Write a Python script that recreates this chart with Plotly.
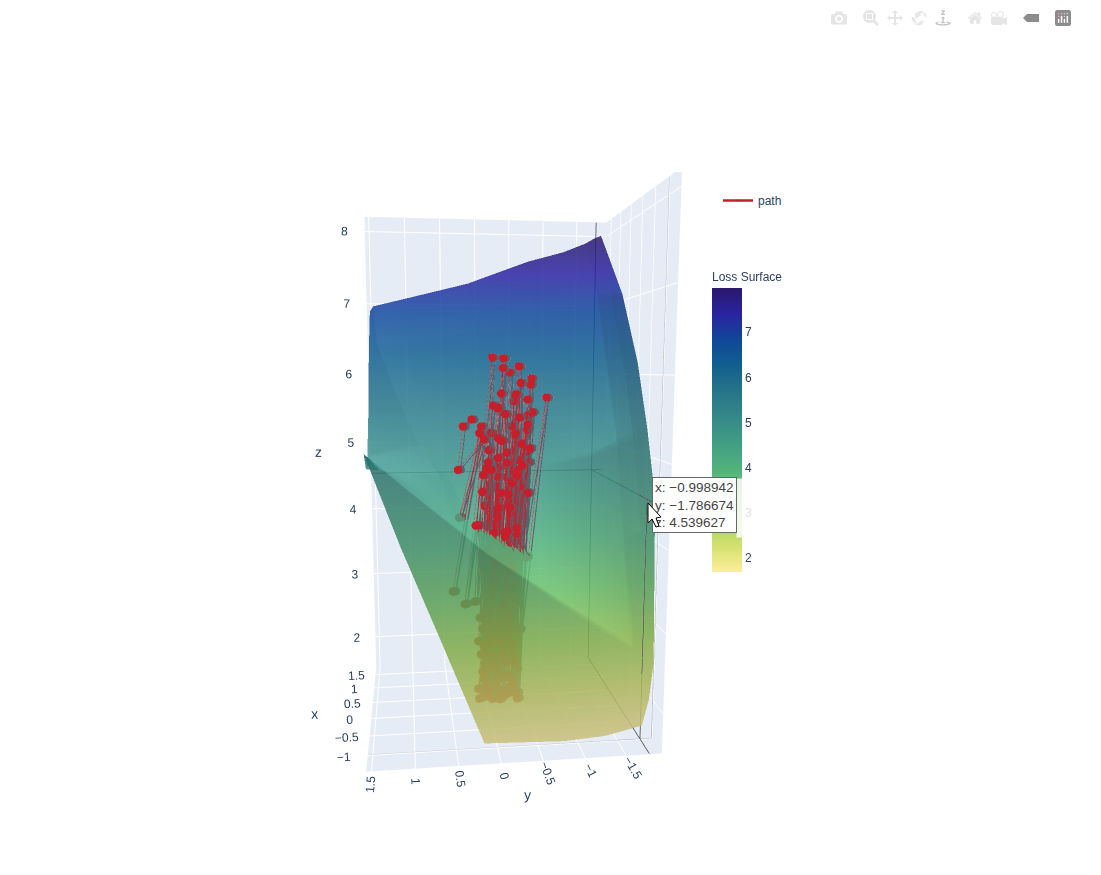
import plotly.graph_objects as go

W = 1069
H = 859

surf_x = [
    [-1.0, -1.06, -1.15, -1.3, -1.3, -1.25, -1.14, -1.05, -1.0],
    [-1.0, -1.0, -1.0, -1.0, -1.0, -1.0, -1.0, -1.0, -1.0],
    [-0.6, -0.6, -0.6, -0.6, -0.6, -0.6, -0.6, -0.8, -0.9989],
    [-0.2, -0.2, -0.2, -0.2, -0.2, -0.2, -0.2, -0.35, -0.62],
    [0.3, 0.3, 0.3, 0.3, 0.3, 0.3, 0.3, 0.1, -0.15],
    [0.95, 0.95, 0.95, 0.95, 0.95, 0.95, 0.95, 0.75, 0.5],
    [1.6, 1.6, 1.6, 1.6, 1.6, 1.6, 1.6, 1.6, 1.6],
]
surf_y = [
    [1.51, 1.12, 0.68, 0.19, -0.755, -1.27, -1.76, -1.87, -1.93],
    [1.51, 0.43, 0.27, 0.12, -0.755, -1.27, -1.63, -1.81, -1.93],
    [1.51, 0.64, 0.43, 0.12, -0.755, -1.27, -1.63, -1.79, -1.885],
    [1.51, 0.89, 0.63, 0.12, -0.755, -1.27, -1.63, -1.79, -1.885],
    [1.51, 1.15, 0.84, 0.12, -0.755, -1.27, -1.63, -1.79, -1.885],
    [1.51, 1.40, 1.00, 0.12, -0.755, -1.27, -1.63, -1.76, -1.85],
    [1.51, 1.46, 1.05, 0.12, -0.755, -1.27, -1.6, -1.72, -1.82],
]
surf_z = [
    [5.12, 4.05, 2.95, 1.72, 1.69, 1.70, 1.75, 2.05, 2.5],
    [5.12, 4.2, 4.05, 3.92, 3.3, 2.95, 2.7, 2.55, 2.5],
    [4.9, 4.8, 4.55, 4.44, 4.1, 3.97, 3.95, 4.05, 4.54],
    [5.0, 5.15, 5.05, 4.95, 4.9, 5.0, 5.15, 5.25, 5.35],
    [5.45, 5.75, 5.65, 5.6, 5.65, 5.75, 5.95, 6.05, 6.15],
    [6.3, 6.4, 6.4, 6.55, 6.7, 6.9, 7.05, 7.08, 7.05],
    [6.88, 6.95, 7.05, 7.28, 7.6, 7.74, 7.87, 7.94, 7.98],
]

path_y = [0.28, 0.38, 0.44, 0.14, 0.43, 0.19, 0.51, 0.17, 0.25, 0.03,
          0.37, 0.04, 0.19, -0.09, 0.07, -0.08, -0.11, -0.27, -0.29, -0.16,
          -0.05, -0.42, -0.23, -0.29, -0.17, -0.41, -0.27, -0.06, 0.07, -0.23,
          -0.11, -0.60, -0.25, -0.37, -0.17, -0.21, -0.09, -0.02, 0.21, -0.43,
          -0.21, -0.11, 0.13, -0.37, -0.02, -0.28, 0.21, -0.19, 0.07, -0.37,
          0.04, -0.37, -0.05, 0.06, 0.15, -0.23, 0.0, -0.03, 0.09, -0.07,
          0.14, -0.31, -0.02, 0.08, 0.04, -0.40, -0.05, -0.37, -0.17, -0.13,
          0.10, -0.03, 0.16, 0.09, 0.02, -0.26, -0.20, -0.13, 0.0, -0.39,
          -0.26, -0.31, -0.12, 0.11, 0.06, -0.03, 0.12, 0.05, -0.08, -0.21,
          -0.27, 0.15, 0.08, -0.02, 0.03, -0.13, -0.03, -0.25, -0.16, -0.29,
          -0.10, -0.19, 0.01, -0.29, -0.14, 0.0, 0.11, 0.16, 0.18, -0.05,
          -0.06, -0.38, -0.22, -0.15, 0.02, 0.13, 0.20, -0.17, -0.13, -0.03,
          0.05, 0.21, 0.14, -0.18, -0.24, -0.02, 0.07, 0.24, 0.16, 0.02,
          0.0, -0.14, -0.07, -0.25, -0.37, -0.11, -0.21, 0.07, -0.20, -0.11,
          0.01, -0.25, 0.10]
path_z = [5.49, 5.41, 4.90, 5.26, 4.33, 5.33, 3.42, 5.41, 3.29, 5.65,
          3.26, 6.20, 3.09, 6.19, 3.41, 6.08, 3.26, 6.10, 2.91, 6.03,
          2.79, 5.96, 2.79, 5.91, 3.06, 5.89, 2.02, 5.79, 3.06, 5.78,
          2.50, 5.74, 2.40, 5.72, 2.33, 5.70, 2.06, 5.62, 2.79, 5.57,
          2.60, 5.55, 2.50, 5.53, 3.18, 5.51, 2.17, 5.41, 2.09, 5.43,
          2.91, 5.37, 2.67, 5.33, 2.30, 5.32, 2.27, 5.27, 2.62, 5.24,
          2.15, 5.20, 2.42, 5.13, 2.03, 5.15, 2.03, 5.11, 2.10, 5.10,
          2.20, 5.04, 2.40, 4.99, 2.05, 5.01, 2.25, 4.98, 2.60, 4.98,
          2.10, 4.95, 2.85, 4.92, 2.75, 4.92, 2.95, 4.90, 2.35, 4.90,
          2.02, 4.84, 2.12, 4.82, 2.48, 4.81, 2.88, 4.83, 2.18, 4.80,
          2.70, 4.74, 2.20, 4.70, 2.55, 4.69, 2.08, 4.64, 2.62, 4.62,
          2.12, 4.62, 2.22, 4.60, 2.34, 4.47, 2.05, 4.45, 2.30, 4.44,
          2.80, 4.24, 2.72, 4.39, 2.50, 4.33, 2.40, 4.24, 2.95, 4.14,
          3.00, 4.16, 2.60, 4.13, 3.83, 4.10, 3.70, 3.94, 3.82, 4.14,
          3.76, 4.20, 2.22]
path_x = [-0.82, -0.80, -0.78, -0.84, -0.79, -0.81, -0.76, -0.83, -0.78, -0.82,
          -0.77, -0.84, -0.79, -0.83, -0.78, -0.85, -0.80, -0.82, -0.76, -0.84,
          -0.79, -0.81, -0.77, -0.83, -0.78, -0.80, -0.76, -0.85, -0.79, -0.82,
          -0.78, -0.80, -0.76, -0.84, -0.79, -0.81, -0.77, -0.83, -0.78, -0.82,
          -0.79, -0.84, -0.77, -0.80, -0.78, -0.83, -0.76, -0.81, -0.79, -0.85,
          -0.78, -0.82, -0.77, -0.80, -0.79, -0.84, -0.76, -0.81, -0.78, -0.83,
          -0.77, -0.82, -0.79, -0.80, -0.76, -0.85, -0.78, -0.81, -0.77, -0.83,
          -0.79, -0.82, -0.78, -0.84, -0.76, -0.80, -0.79, -0.83, -0.77, -0.81,
          -0.78, -0.85, -0.76, -0.82, -0.79, -0.80, -0.78, -0.84, -0.77, -0.81,
          -0.76, -0.83, -0.79, -0.82, -0.78, -0.80, -0.77, -0.85, -0.79, -0.81,
          -0.76, -0.84, -0.78, -0.82, -0.77, -0.80, -0.79, -0.83, -0.78, -0.81,
          -0.76, -0.84, -0.79, -0.82, -0.77, -0.80, -0.78, -0.85, -0.76, -0.81,
          -0.79, -0.83, -0.77, -0.82, -0.78, -0.80, -0.76, -0.84, -0.79, -0.81,
          -0.78, -0.83, -0.77, -0.82, -0.80, -0.84, -0.81, -0.83, -0.80, -0.82,
          -0.81, -0.84, -0.78]

hover_x = -0.998942
hover_y = -1.786674
hover_z = 4.539627
x_range = [-1.38, 1.78]
y_range = [-1.94, 1.56]
z_range = [1.5, 8.2]
spike_x = [-1.375, 1.775]
spike_y = [-1.935, 1.555]
spike_z = [1.505, 8.195]

shadow_y = [v - 0.035 for v in path_y]
shadow_x = [v + 0.02 for v in path_x]
RED = "#c61f2b"
GRAY = "#56626c"


def fx(px):
    return (px - 8) / W


def fy(px):
    return 1 - (px - 8) / H


fig = go.Figure()
fig.add_trace(go.Surface(
    x=surf_x, y=surf_y, z=surf_z, opacity=0.85,
    colorscale="haline", reversescale=True, cmin=1.69, cmax=7.98,
    name="Loss Surface", showlegend=False,
    colorbar=dict(title=dict(text="Loss Surface", font=dict(size=12)), thickness=30,
                  x=fx(702), xanchor="left", y=fy(259), yanchor="top",
                  lenmode="pixels", len=323, tickfont=dict(size=12), outlinewidth=0,
                  tickvals=[2, 3, 4, 5, 6, 7]),
))
fig.add_trace(go.Scatter3d(
    x=shadow_x, y=shadow_y, z=path_z, mode="lines+markers", showlegend=False,
    line=dict(color=GRAY, width=2.5), marker=dict(color=GRAY, size=5), hoverinfo="skip",
))
fig.add_trace(go.Scatter3d(
    x=path_x, y=path_y, z=path_z, mode="lines+markers", name="path", showlegend=False,
    line=dict(color=RED, width=1), marker=dict(color=RED, size=5),
))
fig.add_trace(go.Scatter3d(
    x=[None], y=[None], z=[None], mode="lines+markers", name="path",
    line=dict(color=RED, width=2.5), marker=dict(color=RED, size=2),
))
spike = dict(color="#444444", width=1.5)
for sx, sy, sz in [
    (spike_x, [hover_y, hover_y], [hover_z, hover_z]),
    ([spike_x[1], spike_x[1]], spike_y, [hover_z, hover_z]),
    ([spike_x[1], spike_x[1]], [hover_y, hover_y], spike_z),
    (spike_x, [hover_y, hover_y], [spike_z[0], spike_z[0]]),
    ([hover_x, hover_x], [hover_y, hover_y], [spike_z[0], hover_z]),
]:
    fig.add_trace(go.Scatter3d(x=sx, y=sy, z=sz, mode="lines", line=spike,
                               showlegend=False, hoverinfo="skip"))

faint = dict(color="#b5b5b5", width=1.5)
for sx, sy, sz in [
    ([hover_x, hover_x], [spike_y[0], spike_y[0]], spike_z),
    ([hover_x, hover_x], spike_y, [spike_z[0], spike_z[0]]),
]:
    fig.add_trace(go.Scatter3d(x=sx, y=sy, z=sz, mode="lines", line=faint,
                               showlegend=False, hoverinfo="skip"))

cursor = ("M {} {} L {} {} L {} {} L {} {} L {} {} L {} {} L {} {} Z").format(
    fx(648), fy(503), fx(648), fy(523), fx(652), fy(519), fx(656), fy(527),
    fx(659), fy(526), fx(656), fy(518), fx(661), fy(517))

fig.update_layout(
    width=W, height=H,
    font=dict(family="Liberation Sans"),
    margin=dict(l=0, r=0, t=0, b=0),
    legend=dict(x=fx(718), y=fy(186), xanchor="left", yanchor="top",
                font=dict(size=12)),
    scene=dict(
        domain=dict(x=[0, fx(994)], y=[fy(812), fy(172)]),
        xaxis=dict(title="x", range=x_range, dtick=0.5),
        yaxis=dict(title="y", range=y_range, dtick=0.5),
        zaxis=dict(title="z", range=z_range, dtick=1),
        aspectmode="manual",
        aspectratio=dict(x=0.75, y=0.83, z=1.585),
        camera=dict(eye=dict(x=-2.36, y=0.29, z=0.284),
                    center=dict(x=0, y=0, z=-0.09),
                    up=dict(x=0, y=0, z=1)),
    ),
    shapes=[dict(type="path", xref="paper", yref="paper", path=cursor, layer="above",
                 fillcolor="white", line=dict(color="black", width=1))],
    annotations=[
        dict(xref="paper", yref="paper", x=fx(736), y=fy(478), width=26, height=56,
             xanchor="left", yanchor="top", showarrow=False, text=" ",
             bgcolor="rgba(255,255,255,0.85)"),
        dict(xref="paper", yref="paper", x=fx(652), y=fy(477),
             xanchor="left", yanchor="top", showarrow=False, align="left",
             text="x: \u22120.998942<br>y: \u22121.786674<br>z: 4.539627",
             font=dict(size=13.5, color="#444444"), bgcolor="white",
             bordercolor="#666666", borderwidth=1, borderpad=2),
    ],
)
post = """
function finish() {
  var bar = document.querySelector('.modebar');
  if (bar) { bar.style.opacity = '0.45'; bar.style.transform = 'translateY(-3px)'; }
  var layer = document.querySelector('.layer-above .shapelayer');
  var svgs = document.querySelectorAll('.main-svg');
  if (layer && svgs.length) { svgs[svgs.length - 1].appendChild(layer); }
}
finish();
setTimeout(finish, 200);
"""
buttons = [["toImage"], ["zoom3d", "pan3d", "orbitRotation", "tableRotation"],
           ["resetCameraDefault3d", "resetCameraLastSave3d"], ["hoverClosest3d"]]
fig.write_html("out.html", post_script=post,
               config=dict(displayModeBar=True, modeBarButtons=buttons))
